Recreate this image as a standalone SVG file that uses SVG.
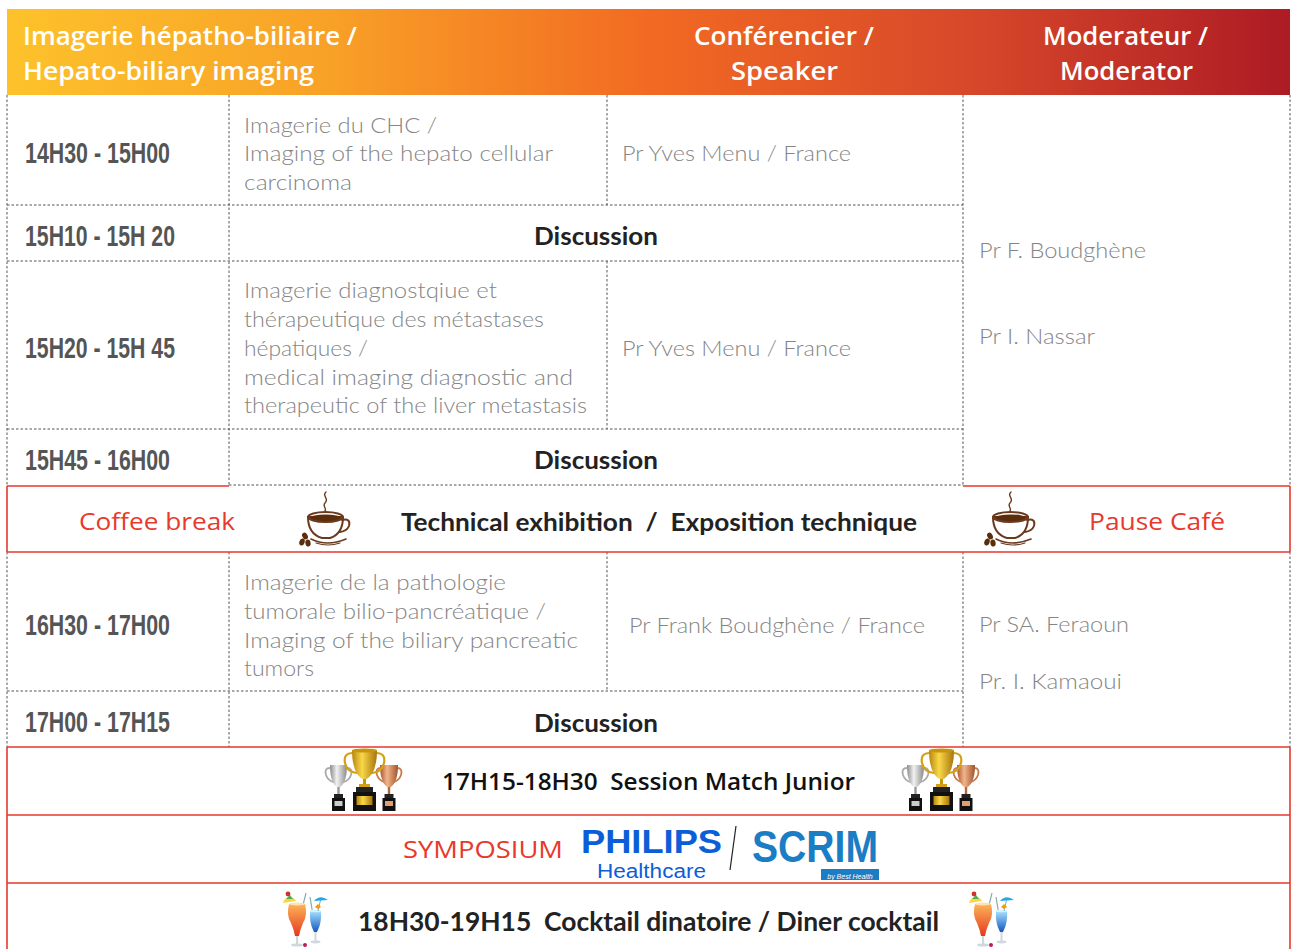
<svg xmlns="http://www.w3.org/2000/svg" width="1293" height="949" viewBox="0 0 1293 949">
<style>
.hdr{font-family:"Open Sans","Noto Sans",sans-serif;font-weight:600;font-size:25px;fill:#fff}
.time{font-family:"Liberation Sans",Arial,sans-serif;font-weight:bold;font-size:30px;fill:#555}
.topic{font-family:Lato,"Noto Sans",sans-serif;font-weight:300;font-size:22px;fill:#858585}
.disc{font-family:Lato,"Noto Sans",sans-serif;font-weight:bold;font-size:24px;fill:#222}
.redt{font-family:"Open Sans","Noto Sans",sans-serif;font-size:24px;fill:#e8392c}
.tech{font-family:Lato,"Noto Sans",sans-serif;font-weight:bold;font-size:25px;fill:#222;white-space:pre}
.junior{font-family:"Open Sans","Noto Sans",sans-serif;font-weight:600;font-size:24px;fill:#111;white-space:pre}
.dash{stroke:#555;stroke-width:1;stroke-dasharray:2.5 2;fill:none}
.red{stroke:#e8392c;stroke-width:1.6;fill:none}
.brown{stroke:#6b3a1e;fill:none;stroke-linecap:round}
</style>
<defs>
<linearGradient id="hg" x1="0" y1="0" x2="1" y2="0">
<stop offset="0" stop-color="#fdc22b"/>
<stop offset="0.25" stop-color="#f8a127"/>
<stop offset="0.5" stop-color="#f26a22"/>
<stop offset="0.75" stop-color="#d7482a"/>
<stop offset="1" stop-color="#ad1b24"/>
</linearGradient>
<linearGradient id="gold" x1="0" y1="0" x2="1" y2="0">
<stop offset="0" stop-color="#b8860b"/><stop offset="0.4" stop-color="#f9d84a"/><stop offset="1" stop-color="#a8740a"/>
</linearGradient>
<linearGradient id="silver" x1="0" y1="0" x2="1" y2="0">
<stop offset="0" stop-color="#8c8c8c"/><stop offset="0.4" stop-color="#f2f2f2"/><stop offset="1" stop-color="#8a8a8a"/>
</linearGradient>
<linearGradient id="bronze" x1="0" y1="0" x2="1" y2="0">
<stop offset="0" stop-color="#a85a30"/><stop offset="0.4" stop-color="#f2b48a"/><stop offset="1" stop-color="#a0552c"/>
</linearGradient>
<linearGradient id="og" x1="0" y1="0" x2="0" y2="1">
<stop offset="0" stop-color="#fbb45a"/><stop offset="1" stop-color="#e63a1c"/>
</linearGradient>
<linearGradient id="bg" x1="0" y1="0" x2="0" y2="1">
<stop offset="0" stop-color="#a8e0ff"/><stop offset="1" stop-color="#1258c0"/>
</linearGradient>
<g id="coffee">
<path class="brown" stroke-width="1.4" d="M28 2 c-5 4 4 6 -1 11 c-3 3 2 5 0 8"/>
<path d="M10 27 Q10 44 24 48 L32 48 Q45 44 45 27 Z" fill="#fff" stroke="#6b3a1e" stroke-width="2"/>
<ellipse cx="27.5" cy="28" rx="15.5" ry="3.6" fill="#5a2d0c"/>
<ellipse cx="27.5" cy="27" rx="17.5" ry="5" fill="none" stroke="#6b3a1e" stroke-width="2"/>
<path class="brown" stroke-width="2" d="M44 30 q9 -2 7 6 q-2 5 -9 6"/>
<path class="brown" stroke-width="1.6" d="M13 49 q16 8 35 0"/>
<path class="brown" stroke-width="1.2" d="M18 53 q12 4 24 0"/>
<ellipse cx="7" cy="46" rx="2.6" ry="3.6" fill="#5a2d0c" transform="rotate(-30 7 46)"/>
<ellipse cx="4" cy="52" rx="2.6" ry="3.6" fill="#5a2d0c" transform="rotate(20 4 52)"/>
<ellipse cx="10" cy="53" rx="2.6" ry="3.6" fill="#5a2d0c" transform="rotate(-10 10 53)"/>
</g>
<g id="trophies">
<path d="M5 20 q-6 0 -4 7 q2 6 8 7 M22 20 q6 0 4 7 q-2 6 -8 7" fill="none" stroke="#aaa" stroke-width="1.8"/>
<path d="M5 17 L22 17 Q22 36 13.5 40 Q5 36 5 17 Z" fill="url(#silver)"/>
<rect x="12.3" y="39" width="2.4" height="8" fill="#999"/>
<rect x="9" y="46" width="9" height="4" fill="#222"/>
<rect x="7" y="50" width="13" height="13" fill="#111"/>
<rect x="9.5" y="53" width="8" height="5" fill="#ccc"/>
<path d="M56 20 q-6 0 -4 7 q2 6 8 7 M72 20 q6 0 4 7 q-2 6 -8 7" fill="none" stroke="#c87a4c" stroke-width="1.8"/>
<path d="M55 17 L73 17 Q73 36 64 40 Q55 36 55 17 Z" fill="url(#bronze)"/>
<rect x="62.8" y="39" width="2.4" height="8" fill="#b06a40"/>
<rect x="59.5" y="46" width="9" height="4" fill="#222"/>
<rect x="57.5" y="50" width="13" height="13" fill="#111"/>
<rect x="60" y="53" width="8" height="5" fill="#e0a070"/>
<path d="M28 5 q-10 0 -8 10 q2 9 12 10 M51 5 q10 0 8 10 q-2 9 -12 10" fill="none" stroke="#d4a017" stroke-width="2.2"/>
<path d="M27 2 L52 2 Q52 27 39.5 32 Q27 27 27 2 Z" fill="url(#gold)"/>
<ellipse cx="39.5" cy="2.5" rx="12.5" ry="2" fill="#c8960c"/>
<rect x="38" y="31" width="3" height="8" fill="#c8960c"/>
<rect x="34" y="36" width="11" height="3" fill="#d4a017"/>
<rect x="31" y="39" width="17" height="5" fill="#222"/>
<rect x="28" y="44" width="23" height="19" fill="#111"/>
<rect x="31.5" y="48" width="16" height="9" fill="url(#gold)"/>
</g>
<g id="cocktail">
<line x1="26" y1="4" x2="22" y2="20" stroke="#8aa" stroke-width="1.2"/>
<line x1="30" y1="8" x2="33" y2="26" stroke="#8aa" stroke-width="1.2"/>
<path d="M9 15 Q6 26 11 34 Q14 41 15 47 L19 47 Q20 41 23 34 Q28 26 25 15 Z" fill="url(#og)"/>
<ellipse cx="17" cy="15" rx="8" ry="1.5" fill="#fde2b0"/>
<rect x="16" y="47" width="2.2" height="8" fill="#cfd8dc"/>
<ellipse cx="17" cy="56" rx="6" ry="1.6" fill="#cfd8dc"/>
<path d="M30 22 Q29 34 34 43 L37 43 Q42 34 41 22 Z" fill="url(#bg)"/>
<ellipse cx="35.5" cy="22" rx="5.5" ry="1.2" fill="#d8f0ff"/>
<rect x="34.5" y="43" width="2" height="9" fill="#cfd8dc"/>
<ellipse cx="35.5" cy="53" rx="5" ry="1.4" fill="#cfd8dc"/>
<path d="M3 14 A7 7 0 0 1 16 12 Z" fill="#ffd23f"/>
<path d="M6 10 l4 -4 l3 4 Z" fill="#4caf50"/>
<circle cx="8" cy="5" r="2.4" fill="#d32f2f"/>
<path d="M34 12 Q40 5 48 11 Z" fill="#29a8e0"/>
<line x1="41" y1="9" x2="38" y2="22" stroke="#29a8e0" stroke-width="0.8"/>
<path d="M35 18 l3 -3 l3 3 l-3 2 Z" fill="#ff9800"/>
<circle cx="25" cy="56" r="2" fill="#c2185b"/>
</g>
</defs>
<rect width="1293" height="949" fill="#fff"/>

<g id="header">
<rect x="7" y="9" width="1283" height="86" fill="url(#hg)"/>
<text class="hdr" x="23" y="45" textLength="334" lengthAdjust="spacingAndGlyphs">Imagerie hépatho-biliaire /</text>
<text class="hdr" x="23" y="80" textLength="291" lengthAdjust="spacingAndGlyphs">Hepato-biliary imaging</text>
<text class="hdr" x="694" y="45" textLength="180" lengthAdjust="spacingAndGlyphs">Conférencier /</text>
<text class="hdr" x="731" y="80" textLength="107" lengthAdjust="spacingAndGlyphs">Speaker</text>
<text class="hdr" x="1043" y="45" textLength="165" lengthAdjust="spacingAndGlyphs">Moderateur /</text>
<text class="hdr" x="1060" y="80" textLength="133" lengthAdjust="spacingAndGlyphs">Moderator</text>
</g>

<g id="connectors">
<path class="dash" d="M7 95 V486 M229 95 V486 M607 95 V205 M607 261 V429 M963 95 V486 M1290 95 V486"/>
<path class="dash" d="M7 205 H963 M7 261 H963 M7 429 H963 M229 485 H963"/>
<path class="dash" d="M7 552 V747 M229 552 V747 M607 552 V691 M963 552 V747 M1290 552 V747 M7 691 H963"/>
<path class="red" d="M7 486 H229 M963 486 H1290 M7 486 V552 M1290 486 V552 M7 552 H1290"/>
<path class="red" d="M7 747 H1290 M7 815 H1290 M7 883 H1290 M7 747 V949 M1290 747 V949"/>
</g>

<g id="row1">
<text class="time" x="25" y="163" textLength="145" lengthAdjust="spacingAndGlyphs">14H30 - 15H00</text>
<text class="topic" x="244" y="133" textLength="193" lengthAdjust="spacingAndGlyphs">Imagerie du CHC /</text>
<text class="topic" x="244" y="161" textLength="309" lengthAdjust="spacingAndGlyphs">Imaging of the hepato cellular</text>
<text class="topic" x="244" y="190" textLength="108" lengthAdjust="spacingAndGlyphs">carcinoma</text>
<text class="topic" x="622" y="161" textLength="229" lengthAdjust="spacingAndGlyphs">Pr Yves Menu / France</text>
</g>
<g id="row2">
<text class="time" x="25" y="246" textLength="150" lengthAdjust="spacingAndGlyphs">15H10 - 15H 20</text>
<text class="disc" x="534" y="245" textLength="124" lengthAdjust="spacingAndGlyphs">Discussion</text>
</g>
<g id="row3">
<text class="time" x="25" y="358" textLength="150" lengthAdjust="spacingAndGlyphs">15H20 - 15H 45</text>
<text class="topic" x="244" y="298" textLength="253" lengthAdjust="spacingAndGlyphs">Imagerie diagnostqiue et</text>
<text class="topic" x="244" y="327" textLength="300" lengthAdjust="spacingAndGlyphs">thérapeutique des métastases</text>
<text class="topic" x="244" y="356" textLength="124" lengthAdjust="spacingAndGlyphs">hépatiques /</text>
<text class="topic" x="244" y="385" textLength="329" lengthAdjust="spacingAndGlyphs">medical imaging diagnostic and</text>
<text class="topic" x="244" y="413" textLength="343" lengthAdjust="spacingAndGlyphs">therapeutic of the liver metastasis</text>
<text class="topic" x="622" y="356" textLength="229" lengthAdjust="spacingAndGlyphs">Pr Yves Menu / France</text>
</g>
<g id="row4">
<text class="time" x="25" y="470" textLength="145" lengthAdjust="spacingAndGlyphs">15H45 - 16H00</text>
<text class="disc" x="534" y="469" textLength="124" lengthAdjust="spacingAndGlyphs">Discussion</text>
</g>
<g id="moderators1">
<text class="topic" x="979" y="258" textLength="167" lengthAdjust="spacingAndGlyphs">Pr F. Boudghène</text>
<text class="topic" x="979" y="344" textLength="116" lengthAdjust="spacingAndGlyphs">Pr I. Nassar</text>
</g>

<g id="coffee-row">
<text class="redt" x="79" y="530" textLength="156" lengthAdjust="spacingAndGlyphs">Coffee break</text>
<use href="#coffee" x="298" y="490"/>
<text class="tech" x="401" y="531" textLength="516" lengthAdjust="spacingAndGlyphs">Technical exhibition  /  Exposition technique</text>
<use href="#coffee" x="983" y="490"/>
<text class="redt" x="1089" y="530" textLength="136" lengthAdjust="spacingAndGlyphs">Pause Café</text>
</g>

<g id="row5">
<text class="time" x="25" y="635" textLength="145" lengthAdjust="spacingAndGlyphs">16H30 - 17H00</text>
<text class="topic" x="244" y="590" textLength="262" lengthAdjust="spacingAndGlyphs">Imagerie de la pathologie</text>
<text class="topic" x="244" y="619" textLength="302" lengthAdjust="spacingAndGlyphs">tumorale bilio-pancréatique /</text>
<text class="topic" x="244" y="648" textLength="334" lengthAdjust="spacingAndGlyphs">Imaging of the biliary pancreatic</text>
<text class="topic" x="244" y="676" textLength="70" lengthAdjust="spacingAndGlyphs">tumors</text>
<text class="topic" x="629" y="633" textLength="296" lengthAdjust="spacingAndGlyphs">Pr Frank Boudghène / France</text>
</g>
<g id="row6">
<text class="time" x="25" y="732" textLength="145" lengthAdjust="spacingAndGlyphs">17H00 - 17H15</text>
<text class="disc" x="534" y="732" textLength="124" lengthAdjust="spacingAndGlyphs">Discussion</text>
</g>
<g id="moderators2">
<text class="topic" x="979" y="632" textLength="150" lengthAdjust="spacingAndGlyphs">Pr SA. Feraoun</text>
<text class="topic" x="979" y="689" textLength="143" lengthAdjust="spacingAndGlyphs">Pr. I. Kamaoui</text>
</g>

<g id="junior-row">
<use href="#trophies" x="325" y="748"/>
<text class="junior" x="442" y="790" textLength="413" lengthAdjust="spacingAndGlyphs">17H15-18H30  Session Match Junior</text>
<use href="#trophies" x="902" y="748"/>
</g>

<g id="symposium-row">
<text class="redt" x="403" y="858" textLength="160" lengthAdjust="spacingAndGlyphs">SYMPOSIUM</text>
<text x="581" y="853" textLength="141" lengthAdjust="spacingAndGlyphs" style="font-family:'Liberation Sans',Arial,sans-serif;font-weight:bold;font-size:33px;fill:#0b5ed7">PHILIPS</text>
<text x="597" y="878" textLength="109" lengthAdjust="spacingAndGlyphs" style="font-family:'Liberation Sans',Arial,sans-serif;font-size:20px;fill:#0b5ed7">Healthcare</text>
<line x1="736" y1="826" x2="730" y2="870" stroke="#222" stroke-width="1.2"/>
<text x="752" y="862" textLength="126" lengthAdjust="spacingAndGlyphs" style="font-family:'Liberation Sans',Arial,sans-serif;font-weight:bold;font-size:44px;fill:#1b7dc4">SCRIM</text>
<rect x="821" y="869" width="58" height="11" fill="#1b7dc4"/>
<text x="850" y="878.5" text-anchor="middle" style="font-family:'Liberation Sans',Arial,sans-serif;font-style:italic;font-size:7px;fill:#fff">by Best Health</text>
</g>

<g id="cocktail-row">
<use href="#cocktail" x="280" y="889"/>
<text class="tech" x="358" y="931" textLength="581" lengthAdjust="spacingAndGlyphs" style="font-size:26px">18H30-19H15  Cocktail dinatoire / Diner cocktail</text>
<use href="#cocktail" x="966" y="889"/>
</g>
</svg>
